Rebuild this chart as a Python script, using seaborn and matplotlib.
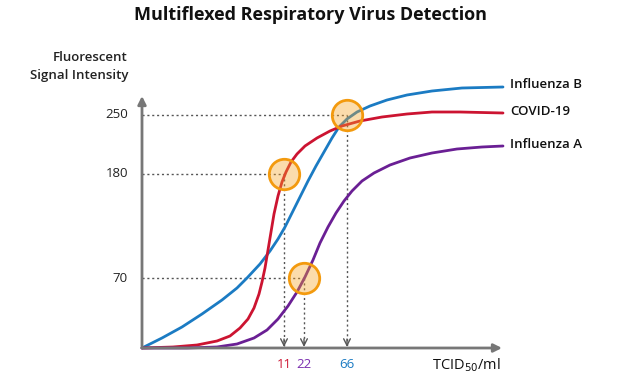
import numpy as np
import pandas as pd
import matplotlib
matplotlib.use("Agg")
import matplotlib.pyplot as plt
import seaborn as sns

sns.set_theme(style="white")
plt.rcParams["font.family"] = ["Open Sans", "DejaVu Sans"]

# schematic curves (x = position along TCID50 axis, y = signal height)
flu_b_x = [0, 20, 40, 60, 80, 95, 105, 118, 128, 136, 143, 150, 158, 166, 174, 182, 190, 197, 205, 215, 228, 245, 265, 290, 320, 361]
flu_b_y = [0, 10, 21, 34, 48, 60, 70, 84, 97, 109, 121, 135, 151, 167, 182, 196, 210, 221, 229, 236, 242, 248, 253, 257, 260, 261]

covid_x = [0, 31, 55, 75, 88, 98, 106, 112, 117, 120, 123, 126, 129, 132, 136, 140, 144, 149, 155, 163, 175, 188, 200, 218, 240, 265, 290, 318, 361]
covid_y = [0, 1, 3, 7, 12, 20, 29, 40, 54, 66, 80, 98, 116, 134, 152, 166, 176, 186, 194, 202, 210, 217, 222, 227, 231, 234, 236, 236, 235]

flu_a_x = [0, 45, 75, 95, 112, 125, 136, 146, 155, 163, 171, 178, 186, 194, 202, 210, 220, 232, 248, 268, 290, 315, 340, 361]
flu_a_y = [0, 0, 1, 4, 10, 18, 29, 42, 56, 71, 88, 105, 121, 135, 147, 157, 167, 175, 183, 190, 195, 199, 201, 202]

series_names = ["Influenza B", "COVID-19", "Influenza A"]
series_colors = ["#1b7bc3", "#cc1431", "#6a1f94"]

# detection points
det_x = [142, 162, 205]
det_y = [174, 70, 233]
det_labels = ["11", "22", "66"]
det_label_colors = ["#cc1431", "#7b2fb0", "#1b7bc3"]

ytick_pos = [70, 174, 233]
ytick_labels = ["70", "180", "250"]

df = pd.concat([
    pd.DataFrame({"x": flu_b_x, "y": flu_b_y, "virus": "Influenza B"}),
    pd.DataFrame({"x": covid_x, "y": covid_y, "virus": "COVID-19"}),
    pd.DataFrame({"x": flu_a_x, "y": flu_a_y, "virus": "Influenza A"}),
])

fig = plt.figure(figsize=(6.2, 3.8), dpi=100)
ax = fig.add_axes([142 / 620, 32 / 380, 358 / 620, 251 / 380])
ax.set_xlim(0, 358)
ax.set_ylim(0, 251)
ax.axis("off")

sns.lineplot(data=df, x="x", y="y", hue="virus", palette=dict(zip(series_names, series_colors)),
             sort=False, lw=2, legend=False, ax=ax, zorder=3)
for line in ax.lines:
    line.set_clip_on(False)
    line.set_solid_joinstyle("round")

gray = "#777777"
dot = "#555555"
# axes with arrows
ax.annotate("", xy=(360, 0), xytext=(0, 0), annotation_clip=False,
            arrowprops=dict(arrowstyle="-|>", color=gray, lw=2, mutation_scale=12, shrinkA=0, shrinkB=0))
ax.annotate("", xy=(0, 252), xytext=(0, 0), annotation_clip=False,
            arrowprops=dict(arrowstyle="-|>", color=gray, lw=2, mutation_scale=12, shrinkA=0, shrinkB=0))

# guide lines
for x, y in zip(det_x, det_y):
    ax.plot([0, x], [y, y], ls=(0, (1.5, 2)), color=dot, lw=1, zorder=2, clip_on=False)
    ax.plot([x, x], [y, 2], ls=(0, (1.5, 2)), color=dot, lw=1, zorder=2, clip_on=False)
    ax.annotate("", xy=(x, 1), xytext=(x, 9), annotation_clip=False,
                arrowprops=dict(arrowstyle="->", color=dot, lw=1, mutation_scale=12, shrinkA=0, shrinkB=0))

sns.scatterplot(x=det_x, y=det_y, s=480, facecolor=(0.97, 0.64, 0.15, 0.38),
                edgecolor="#f39a0e", linewidth=2, ax=ax, zorder=5, clip_on=False)

# tick labels
for pos, lab in zip(ytick_pos, ytick_labels):
    ax.text(-14, pos, lab, ha="right", va="center", fontsize=9.5, color="#222222")
for x, lab, c in zip(det_x, det_labels, det_label_colors):
    ax.text(x, -17, lab, ha="center", va="center", fontsize=9.5, color=c)

ax.text(290, -17, "TCID$_{50}$/ml", ha="left", va="center", fontsize=10.5, color="#111111")
ax.text(-14, 281, "Fluorescent\nSignal Intensity", ha="right", va="center",
        fontsize=9.5, fontweight="semibold", color="#222222", linespacing=1.5)

# series labels at right
for name, yv in zip(series_names, [263, 236, 203]):
    ax.text(368, yv, name, ha="left", va="center", fontsize=9.5, fontweight="semibold", color="#111111")

fig.text(0.5, 0.96, "Multiflexed Respiratory Virus Detection", ha="center", va="center",
         fontsize=13, fontweight="bold", color="#111111")

fig.savefig("out.png", dpi=100)
